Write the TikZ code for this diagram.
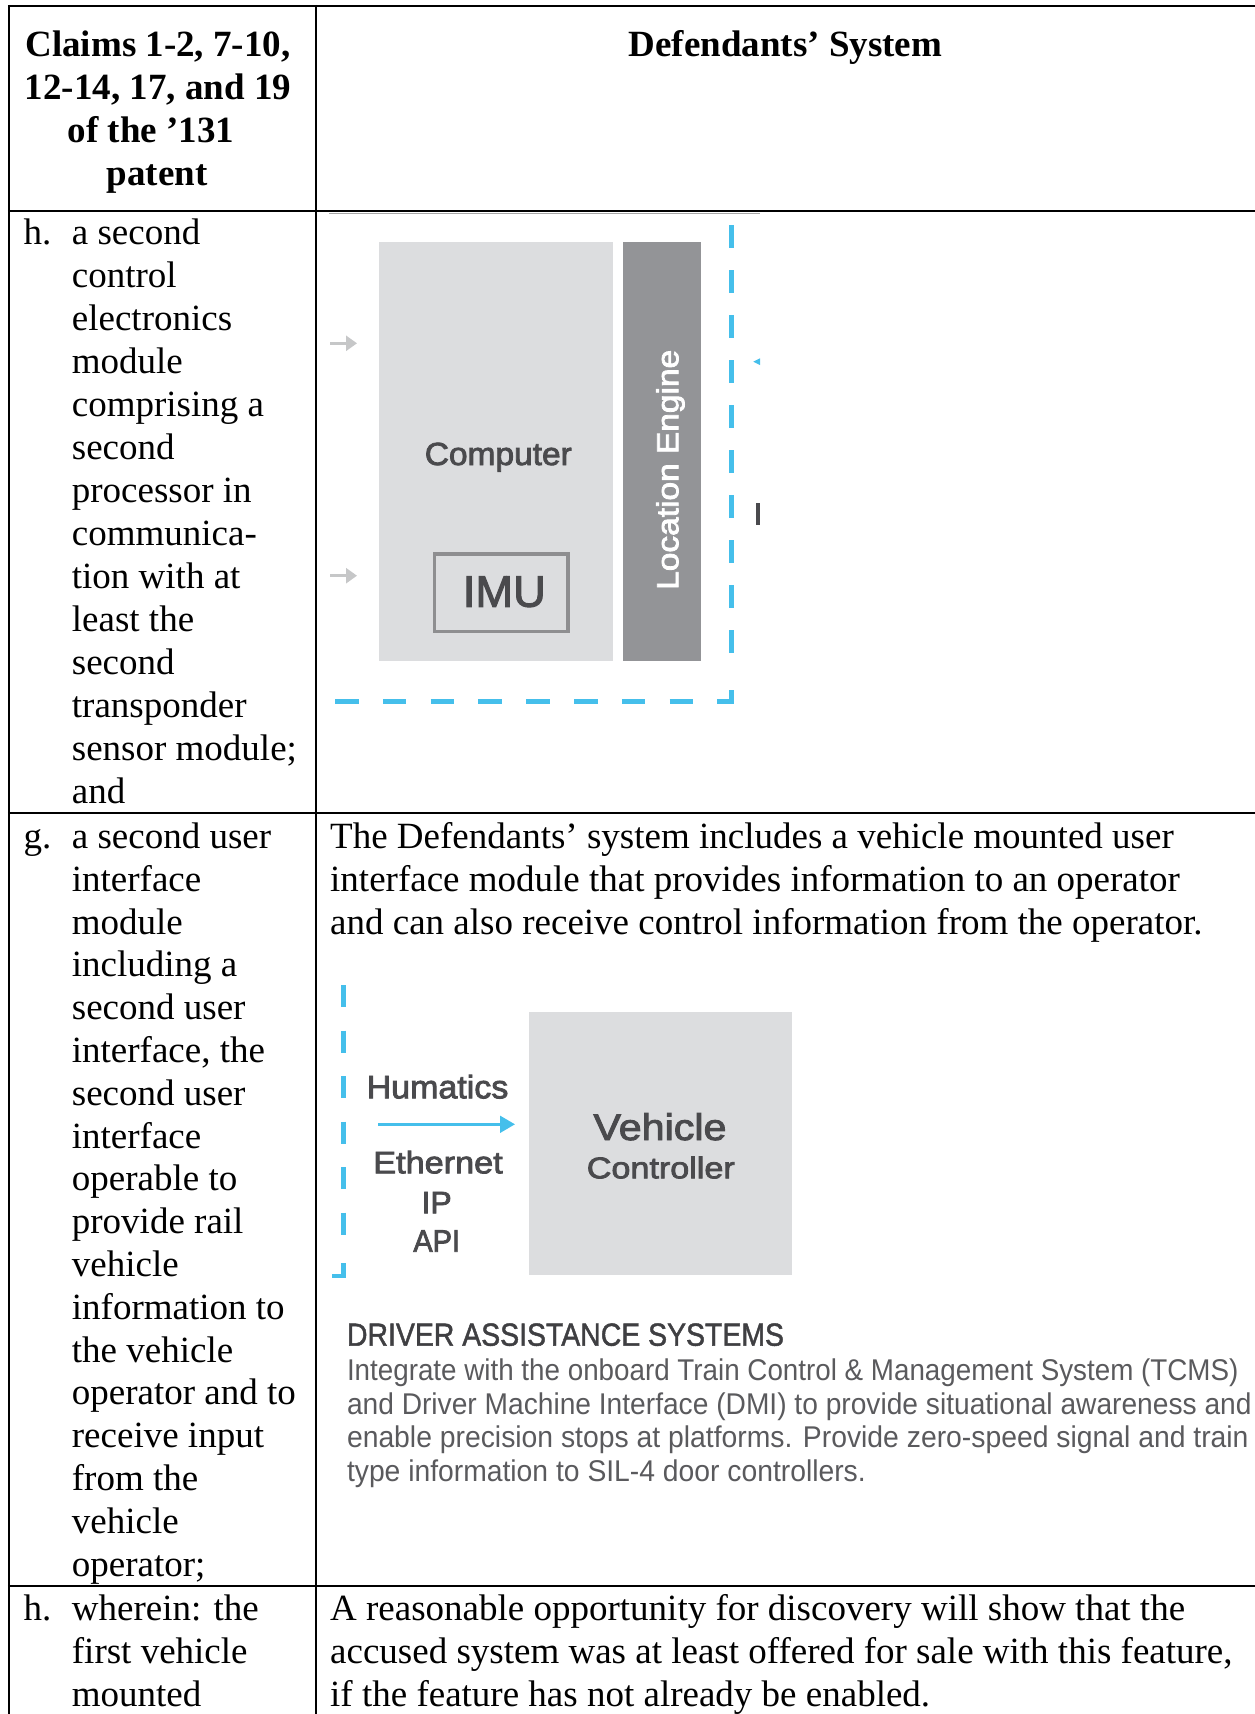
\documentclass[tikz,border=0pt]{standalone}
\usepackage{fontspec}
\usepackage{graphicx}
\setmainfont{Liberation Serif}
\newfontfamily\humfont{Liberation Sans}
\newfontfamily\humbold[FakeBold=2.5]{Liberation Sans}
\newfontfamily\humsemi[FakeBold=1.5]{Liberation Sans}
\usetikzlibrary{arrows.meta}
\definecolor{lgray}{HTML}{DCDDDF}
\definecolor{dgray}{HTML}{939497}
\definecolor{tgray}{HTML}{4A4A4D}
\definecolor{agray}{HTML}{C6C7C8}
\definecolor{hblue}{HTML}{45BFEB}
\definecolor{bodygray}{HTML}{5A5A5D}
\definecolor{headgray}{HTML}{3F3F42}
\definecolor{imugray}{HTML}{8E8E90}
\newcommand\fitw[2]{\resizebox{#1pt}{\height}{#2}}
\begin{document}
\begin{tikzpicture}[x=1pt,y=-1pt,
  grid/.style={line width=2.3pt, black},
  cell/.style={font=\fontsize{37}{43}\selectfont, inner sep=0pt, anchor=base west},
  hdr/.style={font=\fontsize{37}{43}\selectfont\bfseries, inner sep=0pt, anchor=base},
  hum/.style={inner sep=0pt, text=tgray, anchor=base},
  blued/.style={hblue, line width=4.5pt},
  box/.style={inner sep=0pt, anchor=north west, draw=none},
  ghostarrow/.style={agray, line width=2.5pt, -{Triangle[length=11pt,width=15pt]}}
]
\useasboundingbox (0,0) rectangle (1255,1714);

% ---------- table grid ----------
\draw[grid] (7.85,6) -- (1256,6);
\draw[grid] (9,4.85) -- (9,1715);
\draw[grid] (315.7,4.85) -- (315.7,1715);
\draw[grid] (7.85,211) -- (1256,211);
\draw[grid] (7.85,813.3) -- (1256,813.3);
\draw[grid] (7.85,1586.3) -- (1256,1586.3);
\draw[gray!70, line width=1.2pt] (329,213.3) -- (760,213.3);

% ---------- header ----------
\node[hdr] (hc1) at (158,56) {Claims 1-2, 7-10,};
\node[hdr] (hc2) at (158,99) {12-14, 17, and 19};
\node[hdr] (hc3) at (151,142) {of the \char"2019 131};
\node[hdr] (hc4) at (157,185) {patent};
\node[hdr] (hd) at (785.5,56) {Defendants\char"2019{} System};

% ---------- row h (first) ----------
\node[cell] (lh1) at (23.3,244) {h.};
\foreach \t [count=\i] in {a second, control, electronics, module, comprising a, second, processor in, communica-, tion with at, least the, second, transponder, sensor module;, and}
  \node[cell] (hr\i) at (71.7,{244+43*(\i-1)}) {\t};

% ---------- row g ----------
\node[cell] (lg1) at (23.3,848.5) {g.};
\foreach \t [count=\i] in {a second user, interface, module, including a, second user, {interface, the}, second user, interface, operable to, provide rail, vehicle, information to, the vehicle, operator and to, receive input, from the, vehicle, operator;}
  \node[cell] (gr\i) at (71.7,{848.5+42.8*(\i-1)}) {\t};

\node[cell] (gt1) at (330,848.5) {The Defendants\char"2019{} system includes a vehicle mounted user};
\node[cell] (gt2) at (330,891.3) {interface module that provides information to an operator};
\node[cell] (gt3) at (330,934.1) {and can also receive control information from the operator.};

% ---------- last row ----------
\node[cell] (lh2) at (23.3,1620) {h.};
\node[cell] (wr1) at (71.7,1620) {wherein: the};
\node[cell] (wr2) at (71.7,1663) {first vehicle};
\node[cell] (wr3) at (71.7,1706) {mounted};
\node[cell] (wt1) at (330,1620) {A reasonable opportunity for discovery will show that the};
\node[cell] (wt2) at (330,1663) {accused system was at least offered for sale with this feature,};
\node[cell] (wt3) at (330,1706) {if the feature has not already be enabled.};

% ---------- diagram 1 ----------
\node[box, fill=lgray, minimum width=234pt, minimum height=419pt] (comp) at (378.3,241.7) {};
\node[box, fill=dgray, minimum width=78pt, minimum height=419pt] (loc) at (622.3,241.7) {};
\node[box, fill=lgray, draw=imugray, line width=3.5pt, minimum width=133.3pt, minimum height=77.7pt] (imu) at (432.7,552) {};
\node[hum, font=\humbold\fontsize{32}{36}\selectfont] (tcomp) at (498.3,465) {\fitw{147}{Computer}};
\node[hum, font=\humbold\fontsize{44}{48}\selectfont] (timu) at (504.3,606.7) {\fitw{83}{IMU}};
\node[hum, text=white, rotate=90, anchor=base west, font=\humbold\fontsize{30.5}{34}\selectfont] (tloc) at (678.3,590) {\fitw{240}{Location Engine}};

\coordinate (ia1) at (330,343.3);
\coordinate (ib1) at (357,343.3);
\coordinate (ia2) at (330,575.7);
\coordinate (ib2) at (357,575.7);
\draw[ghostarrow] (ia1) -- (ib1);
\draw[ghostarrow] (ia2) -- (ib2);

\draw[blued, dash pattern=on 23pt off 22pt] (731.7,225) -- (731.7,670);
\draw[blued] (731.7,690) -- (731.7,701.7) -- (716.7,701.7);
\draw[blued, dash pattern=on 23.5pt off 24.3pt] (335,701.7) -- (697,701.7);
\fill[hblue] (753.3,361.7) -- (760,358.3) -- (760,365) -- cycle;
\fill[tgray] (755.7,502.7) rectangle (759.5,525);

% ---------- diagram 2 ----------
\draw[blued, dash pattern=on 22pt off 23.5pt] (343.3,985) -- (343.3,1240);
\draw[blued] (343.3,1263) -- (343.3,1276) -- (331.7,1276);
\node[box, fill=lgray, minimum width=263.4pt, minimum height=263.3pt] (vc) at (528.3,1011.7) {};
\node[hum, font=\humbold\fontsize{37}{40}\selectfont] (tveh) at (660,1140) {\fitw{133}{Vehicle}};
\node[hum, font=\humbold\fontsize{30}{34}\selectfont] (tctl) at (660.8,1178.3) {\fitw{148}{Controller}};
\node[hum, font=\humbold\fontsize{32.5}{36}\selectfont] (thum) at (437.5,1098.3) {\fitw{141.7}{Humatics}};
\node[hum, font=\humbold\fontsize{31}{36}\selectfont] (teth) at (438,1173.3) {\fitw{129.4}{Ethernet}};
\node[hum, font=\humbold\fontsize{31}{36}\selectfont] (tip) at (436.7,1213.3) {\fitw{30}{IP}};
\node[hum, font=\humbold\fontsize{31}{36}\selectfont] (tapi) at (436.7,1251.7) {\fitw{46.7}{API}};
\coordinate (ba) at (378.3,1124.3);
\coordinate (bb) at (515,1124.3);
\draw[hblue, line width=2.7pt, -{Triangle[length=15pt,width=16.7pt]}] (ba) -- (bb);

% ---------- description ----------
\node[hum, text=headgray, anchor=base west, font=\humsemi\fontsize{32}{36}\selectfont] (dh) at (346.8,1345.7) {\fitw{437}{DRIVER ASSISTANCE SYSTEMS}};
\node[hum, text=bodygray, anchor=base west, font=\humfont\fontsize{30}{34}\selectfont] (d1) at (346.8,1380.5) {\fitw{891.5}{Integrate with the onboard Train Control \& Management System (TCMS)}};
\node[hum, text=bodygray, anchor=base west, font=\humfont\fontsize{30}{34}\selectfont] (d2) at (346.8,1414) {\fitw{904.6}{and Driver Machine Interface (DMI) to provide situational awareness and}};
\node[hum, text=bodygray, anchor=base west, font=\humfont\fontsize{30}{34}\selectfont] (d3) at (346.8,1447.5) {\fitw{901.6}{enable precision stops at platforms. Provide zero-speed signal and train}};
\node[hum, text=bodygray, anchor=base west, font=\humfont\fontsize{30}{34}\selectfont] (d4) at (346.8,1481) {\fitw{518.8}{type information to SIL-4 door controllers.}};
\end{tikzpicture}
\end{document}
